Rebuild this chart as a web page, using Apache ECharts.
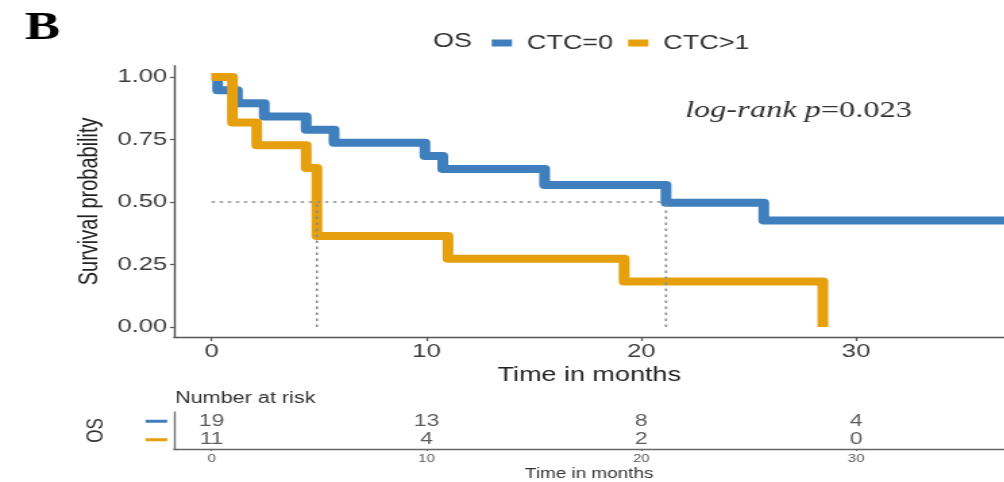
<!DOCTYPE html>
<html>
<head>
<meta charset="utf-8">
<script src="https://cdn.jsdelivr.net/npm/echarts@6/dist/echarts.min.js"></script>
<style>
  html, body { margin: 0; padding: 0; background: #fff; overflow: hidden; }
  /* the figure is drawn narrow and widened horizontally as a whole */
  #chart { width: 744px; height: 482px; transform: scaleX(1.35); transform-origin: 0 0; }
</style>
</head>
<body>
<div id="chart"></div>
<script>
// Kaplan-Meier estimates: event times (months) and survival after each step
const groupNames = ['CTC=0', 'CTC>1'];
const ctc0Times = [0, 0.28, 1.2, 2.45, 4.4, 5.7, 9.93, 10.76, 15.5, 21.15, 25.7, 37];
const ctc0Surv  = [1, 0.947, 0.895, 0.842, 0.789, 0.737, 0.684, 0.632, 0.568, 0.497, 0.426, 0.426];
const ctc1Times = [0, 0.97, 2.1, 4.4, 4.9, 11.0, 19.2, 28.45];
const ctc1Surv  = [1, 0.818, 0.727, 0.636, 0.364, 0.273, 0.182, 0];

// number-at-risk table
const riskTimes = [0, 10, 20, 30];
const ctc0Risk  = [19, 13, 8, 4];
const ctc1Risk  = [11, 4, 2, 0];

const xTicks = [0, 10, 20, 30];
const yTicks = [0, 0.25, 0.5, 0.75, 1];
const pValueText = '=0.023';

const SX = 1.35;                 // horizontal stretch of the container
const px = v => v / SX;          // page x -> drawing x
const BLUE = '#3f7fbe', ORANGE = '#e7a00d';
const SANS = '"Liberation Sans", Arial, sans-serif';
const SERIF = '"Liberation Serif", "Times New Roman", serif';

function zip(a, b) { return a.map((t, i) => [t, b[i]]); }
function medianTime(times, surv) {
  for (let i = 0; i < times.length; i++) if (surv[i] <= 0.5) return times[i];
  return null;
}
const medians = [medianTime(ctc0Times, ctc0Surv), medianTime(ctc1Times, ctc1Surv)].filter(m => m !== null);
const medianMax = Math.max(...medians);

const chart = echarts.init(document.getElementById('chart'));

const medianStyle = { color: '#8c8c8c', width: 1.6, type: [2.5, 3.5] };

const option = {
  backgroundColor: '#fff',
  animation: false,
  textStyle: { fontFamily: SANS },
  legend: {
    data: groupNames,
    left: px(485), top: 28,
    icon: 'rect', itemWidth: 15, itemHeight: 7, itemGap: px(15),
    selectedMode: false,
    textStyle: { fontSize: 20, color: '#333', fontFamily: SANS, padding: [0, 0, 0, 6] }
  },
  grid: [
    { left: px(174), right: -px(7), top: 65.75, bottom: 482 - 337 },
    { left: px(174), right: -px(7), top: 412, bottom: 482 - 453 }
  ],
  xAxis: [
    {
      gridIndex: 0, type: 'value', min: -1.75, max: 36.9,
      axisLine: { show: true, onZero: false, lineStyle: { color: '#555', width: 1.4 } },
      axisTick: { show: true, customValues: xTicks, length: 4, lineStyle: { color: '#555', width: 1.2 } },
      axisLabel: { customValues: xTicks, fontSize: 19, color: '#3c3c3c', margin: 5 },
      splitLine: { show: false },
      name: 'Time in months', nameLocation: 'middle', nameGap: 19,
      nameTextStyle: { fontSize: 20, color: '#222' }
    },
    {
      gridIndex: 1, type: 'value', min: -1.75, max: 36.9,
      axisLine: { show: true, onZero: false, lineStyle: { color: '#666', width: 1.4 } },
      axisTick: { show: true, customValues: xTicks, length: 2, lineStyle: { color: '#666' } },
      axisLabel: { customValues: xTicks, fontSize: 11, color: '#555', margin: 4 },
      splitLine: { show: false },
      name: 'Time in months', nameLocation: 'middle', nameGap: 18,
      nameTextStyle: { fontSize: 14, color: '#333' }
    }
  ],
  yAxis: [
    {
      gridIndex: 0, type: 'value', min: -0.04, max: 1.045,
      axisLine: { show: true, onZero: false, lineStyle: { color: '#555', width: 1.4 } },
      axisTick: { show: true, customValues: yTicks, length: 3, lineStyle: { color: '#555', width: 1.2 } },
      axisLabel: { customValues: yTicks, fontSize: 19, color: '#3c3c3c', margin: 5,
                   formatter: v => v.toFixed(2) },
      splitLine: { show: false },
      name: 'Survival probability', nameLocation: 'middle', nameGap: 45,
      nameTextStyle: { fontSize: 20, color: '#222' }
    },
    {
      gridIndex: 1, type: 'category', data: [groupNames[1], groupNames[0]],
      axisLine: { show: true, onZero: false, lineStyle: { color: '#777', width: 1.4 } },
      axisTick: { show: false },
      axisLabel: {
        margin: 5,
        formatter: v => v === groupNames[0] ? '{a|}' : '{b|}',
        rich: {
          a: { width: 16, height: 3, backgroundColor: BLUE },
          b: { width: 16, height: 3, backgroundColor: ORANGE }
        }
      },
      name: 'OS', nameLocation: 'middle', nameGap: 49,
      nameTextStyle: { fontSize: 17, color: '#333' }
    }
  ],
  series: [
    {
      name: groupNames[0], type: 'line', step: 'end', symbol: 'none',
      xAxisIndex: 0, yAxisIndex: 0, z: 2,
      itemStyle: { color: BLUE },
      lineStyle: { color: BLUE, width: 8, join: 'round', cap: 'butt' },
      data: zip(ctc0Times, ctc0Surv)
    },
    {
      name: groupNames[1], type: 'line', step: 'end', symbol: 'none',
      xAxisIndex: 0, yAxisIndex: 0, z: 2,
      itemStyle: { color: ORANGE },
      lineStyle: { color: ORANGE, width: 8, join: 'round', cap: 'butt' },
      data: zip(ctc1Times, ctc1Surv)
    },
    {
      type: 'line', symbol: 'none', xAxisIndex: 0, yAxisIndex: 0, z: 3, silent: true,
      lineStyle: medianStyle,
      data: [[0, 0.5], [medianMax, 0.5]]
    },
    ...medians.map(m => ({
      type: 'line', symbol: 'none', xAxisIndex: 0, yAxisIndex: 0, z: 3, silent: true,
      lineStyle: medianStyle,
      data: [[m, 0], [m, 0.5]]
    })),
    {
      type: 'scatter', xAxisIndex: 1, yAxisIndex: 1, symbolSize: 1, silent: true,
      itemStyle: { color: 'rgba(0,0,0,0)' },
      label: { show: true, position: 'inside', fontSize: 17, color: '#333',
               formatter: p => String(p.value[2]) },
      data: riskTimes.map((t, i) => [t, groupNames[0], ctc0Risk[i]])
        .concat(riskTimes.map((t, i) => [t, groupNames[1], ctc1Risk[i]]))
    }
  ],
  graphic: [
    { type: 'text', x: px(25), y: 29,
      style: { text: 'B', font: 'bold 39px ' + SERIF, fill: '#000', verticalAlign: 'middle' } },
    { type: 'text', x: px(433), y: 41,
      style: { text: 'OS', font: '20px ' + SANS, fill: '#333', verticalAlign: 'middle' } },
    { type: 'text', x: px(685), y: 111,
      style: {
        text: '{i|log-rank p}{n|' + pValueText + '}', verticalAlign: 'middle',
        rich: {
          i: { fontFamily: SERIF, fontStyle: 'italic', fontSize: 24, fill: '#333' },
          n: { fontFamily: SERIF, fontSize: 24, fill: '#333' }
        }
      } },
    { type: 'text', x: px(175), y: 399,
      style: { text: 'Number at risk', font: '16px ' + SANS, fill: '#333', verticalAlign: 'middle' } }
  ]
};

chart.setOption(option);
</script>
</body>
</html>
